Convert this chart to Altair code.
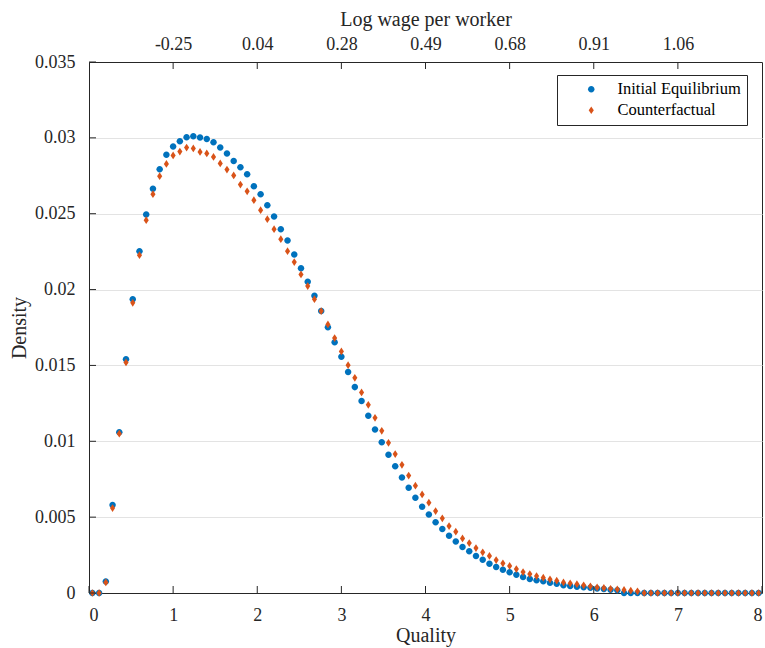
import altair as alt
import pandas as pd

# ---- data ----
quality = [round(0.04 + 0.08 * k, 2) for k in range(100)]

initial = [
    0, 0, 0.00075, 0.0058, 0.0106, 0.0154, 0.01937, 0.02253, 0.02495, 0.02664,
    0.02793, 0.02888, 0.02943, 0.02978, 0.03004, 0.03011, 0.03002, 0.02993, 0.02971, 0.02936,
    0.02897, 0.02848, 0.02807, 0.0276, 0.02681, 0.02629, 0.02556, 0.02482, 0.02398, 0.02324,
    0.02231, 0.02141, 0.02051, 0.01959, 0.01858, 0.01752, 0.01652, 0.01557, 0.01456, 0.01357,
    0.01265, 0.01168, 0.01078, 0.00993, 0.00911, 0.00835, 0.00762, 0.00694, 0.00628, 0.00569,
    0.00518, 0.00466, 0.00422, 0.00378, 0.0034, 0.00303, 0.00275, 0.00244, 0.00219, 0.00193,
    0.00171, 0.00154, 0.00136, 0.00121, 0.00105, 0.00092, 0.00084, 0.00077, 0.00068, 0.00061,
    0.00051, 0.00046, 0.00042, 0.00038, 0.00035, 0.0003, 0.00026, 0.00022, 0.00018, 0,
    0, 0, 0, 0, 0, 0, 0, 0, 0, 0,
    0, 0, 0, 0, 0, 0, 0, 0, 0, 0,
]

counterfactual = [
    0, 0, 0.0007, 0.0056, 0.0105, 0.0152, 0.01913, 0.02227, 0.02457, 0.02629,
    0.02747, 0.02828, 0.02884, 0.0291, 0.02936, 0.0293, 0.02907, 0.02897, 0.02874, 0.02831,
    0.02791, 0.02752, 0.02692, 0.02648, 0.02589, 0.02523, 0.02464, 0.02398, 0.02332, 0.02253,
    0.02181, 0.021, 0.02023, 0.01937, 0.01858, 0.0177, 0.0168, 0.01592, 0.01502, 0.01418,
    0.01322, 0.0124, 0.01155, 0.01069, 0.0099, 0.00916, 0.00845, 0.00774, 0.00707, 0.0065,
    0.00595, 0.0054, 0.00492, 0.00441, 0.00404, 0.0036, 0.00329, 0.00296, 0.00268, 0.00244,
    0.00217, 0.00196, 0.00178, 0.00158, 0.00138, 0.00125, 0.00112, 0.00101, 0.0009, 0.00081,
    0.0007, 0.00064, 0.00058, 0.00051, 0.00044, 0.00037, 0.00033, 0.00028, 0.00024, 0.0002,
    0.00015, 0.00011, 0, 0, 0, 0, 0, 0, 0, 0,
    0, 0, 0, 0, 0, 0, 0, 0, 0, 0,
]

series_names = ["Initial Equilibrium", "Counterfactual"]
series_colors = ["#0072BD", "#D95319"]

x_ticks = [0, 1, 2, 3, 4, 5, 6, 7, 8]
y_ticks = [0, 0.005, 0.01, 0.015, 0.02, 0.025, 0.03, 0.035]
top_ticks = [1, 2, 3, 4, 5, 6, 7]
top_labels = ["-0.25", "0.04", "0.28", "0.49", "0.68", "0.91", "1.06"]

# ---- tables ----
df = pd.DataFrame({
    "quality": quality * 2,
    "density": initial + counterfactual,
    "series": [series_names[0]] * len(quality) + [series_names[1]] * len(quality),
})

FONT = "Liberation Serif"
AX = "#262626"
W, H = 673, 531
TICK = 7

circle_path = "M-0.84,0A0.84,0.84 0 1,0 0.84,0A0.84,0.84 0 1,0 -0.84,0Z"
diamond_path = "M0,-1L0.66,0L0,1L-0.66,0Z"

x_scale = alt.Scale(domain=[0, 8], nice=False)
y_scale = alt.Scale(domain=[0, 0.035], nice=False)

legend = alt.Legend(
    title=None, orient="none", legendX=468, legendY=13,
    fillColor="white", strokeColor=AX, padding=6,
    labelFont=FONT, labelFontSize=16.5, labelColor="black",
    symbolOffset=20, labelOffset=18, rowPadding=4,
    symbolSize=60, symbolStrokeWidth=0,
)

points = alt.Chart(df).mark_point(filled=True, size=60, opacity=1, strokeWidth=0).encode(
    x=alt.X("quality:Q", scale=x_scale,
            axis=alt.Axis(orient="bottom", values=x_ticks, title="Quality", grid=False,
                          ticks=False, tickSize=0, labelPadding=13, titlePadding=1,
                          format="d")),
    y=alt.Y("density:Q", scale=y_scale,
            axis=alt.Axis(values=y_ticks, format=".3~f", title="Density", grid=True,
                          ticks=False, tickSize=0, labelPadding=14, titlePadding=5)),
    color=alt.Color("series:N", scale=alt.Scale(domain=series_names, range=series_colors),
                    legend=legend),
    shape=alt.Shape("series:N", scale=alt.Scale(domain=series_names, range=[circle_path, diamond_path]),
                    legend=legend),
)

label_expr = " : ".join(
    f"datum.value == {v} ? '{l}'" for v, l in zip(top_ticks, top_labels)
) + " : ''"

top_axis = alt.Chart(pd.DataFrame({"t": top_ticks})).mark_point(opacity=0).encode(
    x=alt.X("t:Q", scale=x_scale,
            axis=alt.Axis(orient="top", values=top_ticks, labelExpr=label_expr,
                          title="Log wage per worker", grid=False, ticks=False, tickSize=0,
                          labelPadding=9, titlePadding=6)),
)

bottom_ticks = alt.Chart(pd.DataFrame({"t": x_ticks})).mark_rule(color=AX, strokeWidth=1).encode(
    x=alt.X("t:Q", scale=x_scale, axis=None),
    y=alt.value(H), y2=alt.value(H - TICK),
)
top_tick_marks = alt.Chart(pd.DataFrame({"t": top_ticks})).mark_rule(color=AX, strokeWidth=1).encode(
    x=alt.X("t:Q", scale=x_scale, axis=None),
    y=alt.value(0), y2=alt.value(TICK),
)
left_ticks = alt.Chart(pd.DataFrame({"v": y_ticks})).mark_rule(color=AX, strokeWidth=1).encode(
    y=alt.Y("v:Q", scale=y_scale, axis=None),
    x=alt.value(0), x2=alt.value(TICK),
)

chart = alt.layer(points, top_axis, bottom_ticks, top_tick_marks, left_ticks).resolve_axis(
    x="independent", y="independent"
).properties(
    width=W, height=H,
    autosize=alt.AutoSizeParams(type="none"),
    padding={"left": 89, "top": 62, "right": 3, "bottom": 55},
).configure(
    background="white",
).configure_view(
    stroke=AX, strokeWidth=1,
).configure_axis(
    labelFont=FONT, titleFont=FONT, labelFontSize=18, titleFontSize=20,
    labelColor=AX, titleColor=AX, titleFontWeight="normal",
    domainColor=AX, domainWidth=1, gridColor="#e3e3e3", gridWidth=1,
).configure_legend(
    labelFont=FONT, labelFontSize=16.5, labelColor="black",
)

chart.save("out.html", embed_options={"renderer": "svg", "actions": False})
